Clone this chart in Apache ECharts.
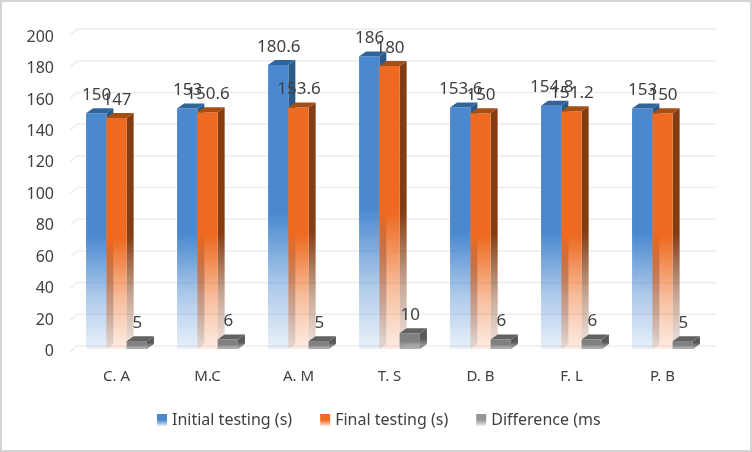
<!DOCTYPE html>
<html><head><meta charset="utf-8">
<style>html,body{margin:0;padding:0;background:#fff}#c{width:752px;height:452px}</style>
<script src="https://cdn.jsdelivr.net/npm/echarts@6/dist/echarts.min.js"></script>
</head><body><div id="c"></div>
<script>
const categories = ['C. A','M.C','A. M','T. S','D. B','F. L','P. B'];
const initialTesting = [150,153,180.6,186,153.6,154.8,153];
const finalTesting = [147,150.6,153.6,180,150,151.2,150];
const difference = [5,6,5,10,6,6,5];
const yTicks = [0,20,40,60,80,100,120,140,160,180,200];

const FONT = '"Noto Sans", sans-serif', TXT = '#404040';
const DX = 7, DY = -5, BW = 20.3;
const palette = [
  {front:[74,137,208], side:[40,90,140], top:[48,100,155], fade:.12, legend:[74,137,208]},
  {front:[237,106,32], side:[132,60,18], top:[165,78,22], fade:.12, legend:[237,106,32]},
  {front:[128,128,128], side:[88,88,88], top:[98,98,98], fade:.65, legend:[150,150,150]}
];
const rgba = (c,a)=>`rgba(${c[0]},${c[1]},${c[2]},${a})`;
function fadeFill(c,f){
  return {type:'linear',x:0,y:0,x2:0,y2:1,colorStops:[
    {offset:0,color:rgba(c,1)},{offset:.52,color:rgba(c,1)},{offset:.78,color:rgba(c,(1+f)/2*.8)},{offset:1,color:rgba(c,f)}]};
}
function barSeries(name,values,si){
  const p = palette[si];
  return {
    name,type:'custom',coordinateSystem:'cartesian2d',data:values.map((v,i)=>[i,v]),
    encode:{x:0,y:1},
    itemStyle:{color:{type:'linear',x:0,y:0,x2:0,y2:1,colorStops:[
      {offset:0,color:rgba(p.legend,1)},{offset:.5,color:rgba(p.legend,1)},{offset:1,color:rgba(p.legend,.15)}]}},
    renderItem(params,api){
      const i=api.value(0), v=api.value(1);
      const t=api.coord([i,v]), b=api.coord([i,0]);
      const x0=t[0]+(si-1.5)*BW, x1=x0+BW, y0=t[1], y1=b[1];
      return {type:'group',children:[
        {type:'polygon',shape:{points:[[x1,y0],[x1+DX,y0+DY],[x1+DX,y1+DY],[x1,y1]]},style:{fill:fadeFill(p.side,p.fade)}},
        {type:'rect',shape:{x:x0,y:y0,width:BW,height:y1-y0},style:{fill:fadeFill(p.front,p.fade)}},
        {type:'polygon',shape:{points:[[x0,y0],[x0+DX,y0+DY],[x1+DX,y0+DY],[x1,y0]]},style:{fill:rgba(p.top,1)}},
        {type:'text',z2:100,style:{x:x0+BW/2+.5,y:y0-18,text:String(v),fill:TXT,font:'17px '+FONT,align:'center',verticalAlign:'middle'}}
      ]};
    }
  };
}
const gridSeries = {
  type:'custom',coordinateSystem:'cartesian2d',silent:true,z:1,legendHoverLink:false,
  data:yTicks.map(v=>[0,v]),encode:{y:1},
  renderItem(params,api){
    const y=api.coord([0,api.value(1)])[1];
    const yb=346-(349-y)*1.008;
    return {type:'polyline',shape:{points:[[70.5,yb+5.7],[77,yb],[716,yb]]},style:{stroke:'#eeeeee',lineWidth:1.6,fill:null}};
  }
};
const chart = echarts.init(document.getElementById('c'),null,{renderer:'canvas'});
chart.setOption({
  animation:false,backgroundColor:'#fff',
  grid:{left:71,right:44,top:34.6,bottom:103},
  graphic:[{type:'rect',z:0,shape:{x:1,y:1,width:750,height:450},style:{fill:'none',stroke:'#d4d4d4',lineWidth:2}}],
  legend:{left:157,top:412,padding:0,itemWidth:10,itemHeight:12,itemGap:28,icon:'rect',
    textStyle:{color:TXT,fontFamily:FONT,fontSize:16},
    data:['Initial testing (s)','Final testing (s)','Difference (ms']},
  xAxis:{type:'category',data:categories,axisLine:{show:false},axisTick:{show:false},
    axisLabel:{color:TXT,fontFamily:FONT,fontSize:15,margin:20}},
  yAxis:{type:'value',min:0,max:200,interval:20,splitLine:{show:false},axisLine:{show:false},axisTick:{show:false},
    axisLabel:{margin:17,formatter:'{t|{value}}',rich:{t:{color:TXT,fontFamily:FONT,fontSize:16,padding:[5,0,0,0]}}}},
  series:[gridSeries,
    barSeries('Initial testing (s)',initialTesting,0),
    barSeries('Final testing (s)',finalTesting,1),
    barSeries('Difference (ms',difference,2)]
});
</script></body></html>
